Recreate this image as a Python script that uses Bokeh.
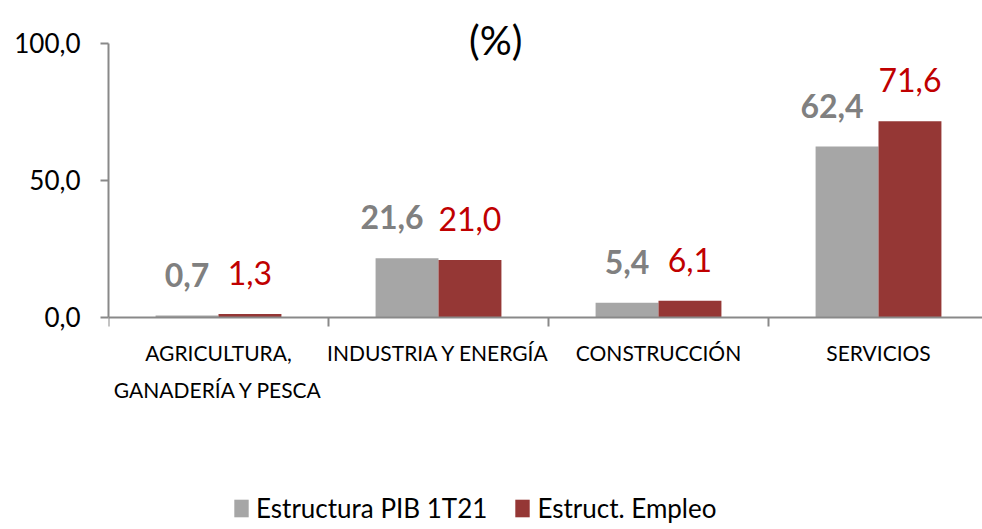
from bokeh.plotting import figure
from bokeh.models import ColumnDataSource, Range1d, FixedTicker, Legend, LegendItem
from bokeh.core.properties import value
from bokeh.embed import file_html
from bokeh.resources import INLINE

categories = ["AGRICULTURA,\nGANADERÍA Y PESCA", "INDUSTRIA Y ENERGÍA", "CONSTRUCCIÓN", "SERVICIOS"]
pib = [0.7, 21.6, 5.4, 62.4]
empleo = [1.3, 21.0, 6.1, 71.6]
series_names = ["Estructura PIB 1T21", "Estruct. Empleo"]
y_ticks = [0, 50, 100]
title_text = "(%)"

FONT = "Lato"
GRAY = "#A6A6A6"
RED = "#953735"
GRAY_TXT = "#808080"
RED_TXT = "#C00000"
AXIS = "#898989"

def fmt(v):
    return f"{v:.1f}".replace(".", ",")

centers = [i + 0.5 for i in range(len(categories))]
bw = 0.286
lg = [fmt(v) for v in pib]
lr = [fmt(v) for v in empleo]
# long gray labels are nudged left so they do not collide with the red ones
gdx = [-15 if len(s) > 3 else 0 for s in lg]
src = ColumnDataSource(dict(
    xg=[c - bw / 2 for c in centers],
    xr=[c + bw / 2 for c in centers],
    pib=pib, emp=empleo, lg=lg, lr=lr, gdx=gdx,
))
cat_src = ColumnDataSource(dict(x=centers, y=[0] * len(centers), t=categories))

p = figure(frame_width=874, frame_height=515, output_backend="svg", toolbar_location=None,
           x_range=Range1d(0, 3.9727), y_range=Range1d(-75.91, 112.04),
           min_border_left=108, min_border_right=0, min_border_top=10, min_border_bottom=4)
p.outline_line_color = None
p.xgrid.visible = False
p.ygrid.visible = False

rg = p.vbar(x="xg", top="pib", width=bw, source=src, fill_color=GRAY, line_color=None)
rr = p.vbar(x="xr", top="emp", width=bw, source=src, fill_color=RED, line_color=None)

p.text(x="xg", y="pib", text="lg", source=src, text_align="center", text_baseline="alphabetic",
       x_offset="gdx", y_offset=-41, text_font=value(FONT), text_font_size="32px",
       text_font_style="bold", text_color=GRAY_TXT)
p.text(x="xr", y="emp", text="lr", source=src, text_align="center", text_baseline="alphabetic",
       y_offset=-41, text_font=value(FONT), text_font_size="32px",
       text_color=RED_TXT)

# category labels below the axis
p.text(x="x", y="y", text="t", source=cat_src, text_align="center", text_baseline="top",
       y_offset=23, text_font=value(FONT), text_font_size="21px", text_color="black",
       text_line_height=1.46)

# title
p.text(x=[1.76], y=[101.1], text=[title_text], text_align="center", text_baseline="middle",
       text_font=value(FONT), text_font_size="40px", text_color="black")

# x axis at y = 0 with ticks at category boundaries
xa = p.xaxis[0]
xa.fixed_location = 0
xa.ticker = FixedTicker(ticks=centers, minor_ticks=list(range(len(categories) + 1)))
xa.major_label_overrides = {c: "" for c in centers}
xa.major_label_text_font_size = "0px"
xa.major_label_standoff = 0
xa.major_tick_out = 0
xa.major_tick_in = 0
xa.minor_tick_out = 9
xa.minor_tick_in = 0
xa.minor_tick_line_color = AXIS
xa.minor_tick_line_width = 2
xa.axis_line_color = AXIS
xa.axis_line_width = 2

ya = p.yaxis[0]
ya.bounds = (0, 100)
ya.ticker = FixedTicker(ticks=y_ticks, minor_ticks=[])
ya.major_label_overrides = {t: fmt(t) for t in y_ticks}
ya.major_tick_out = 8
ya.major_tick_in = 0
ya.major_tick_line_color = AXIS
ya.major_tick_line_width = 2
ya.axis_line_color = AXIS
ya.axis_line_width = 2
ya.major_label_text_font = FONT
ya.major_label_text_font_size = "26px"
ya.major_label_text_color = "black"
ya.major_label_standoff = 20

legend = Legend(items=[LegendItem(label=series_names[0], renderers=[rg]),
                       LegendItem(label=series_names[1], renderers=[rr])],
                location=(124, 1), orientation="horizontal",
                label_text_font=FONT, label_text_font_size="26px", label_text_color="black",
                glyph_width=18, glyph_height=22, label_standoff=6, spacing=26,
                padding=0, margin=0, border_line_color=None, background_fill_alpha=0)
p.add_layout(legend, "center")

open("out.html", "w").write(file_html(p, INLINE))
